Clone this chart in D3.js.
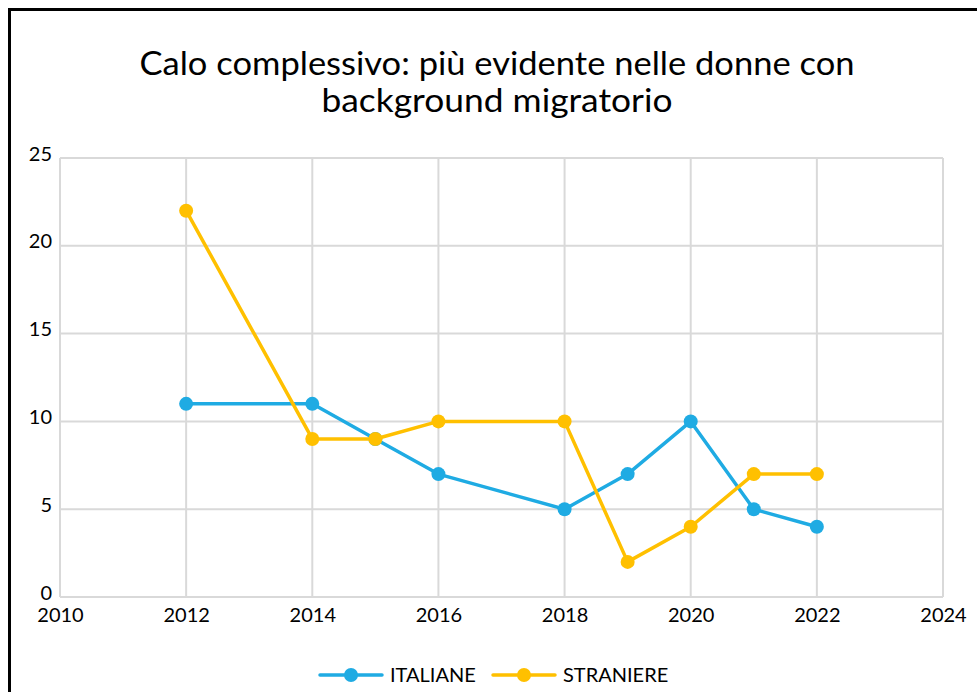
<!DOCTYPE html>
<html>
<head>
<meta charset="utf-8">
<script src="https://cdn.jsdelivr.net/npm/d3@7"></script>
<style>
  body { margin: 0; background: #fff; }
  svg { display: block; font-family: Lato, "Open Sans", sans-serif; }
</style>
</head>
<body>
<svg id="chart"></svg>
<script>
// data
const years = [2012, 2014, 2015, 2016, 2018, 2019, 2020, 2021, 2022]
const italiane = [11, 11, 9, 7, 5, 7, 10, 5, 4]
const straniere = [22, 9, 9, 10, 10, 2, 4, 7, 7]
const xTicks = [2010, 2012, 2014, 2016, 2018, 2020, 2022, 2024]
const yTicks = [0, 5, 10, 15, 20, 25]
const titleLines = ['Calo complessivo: più evidente nelle donne con', 'background migratorio']

const series = [
    {name: 'ITALIANE', color: '#1FABE3', values: italiane},
    {name: 'STRANIERE', color: '#FFC000', values: straniere}
]

const W = 977, H = 692
const svg = d3.select('#chart').attr('width', W).attr('height', H)

// outer frame (runs off the right/bottom)
svg.append('rect')
    .attr('x', 9.5).attr('y', 9.5)
    .attr('width', 1000).attr('height', 1000)
    .attr('fill', 'none').attr('stroke', '#000').attr('stroke-width', 3)

// title
svg.append('g').selectAll('text')
    .data(titleLines)
    .join('text')
    .attr('x', 497)
    .attr('y', (d, i) => 75 + i * 37)
    .attr('text-anchor', 'middle')
    .attr('font-size', 32)
    .attr('fill', '#000')
    .attr('textLength', (d, i) => i == 0 ? 715 : 351)
    .attr('lengthAdjust', 'spacingAndGlyphs')
    .text(d => d)

const xScale = d3.scaleLinear().domain([2010, 2024]).range([60, 943])
const yScale = d3.scaleLinear().domain([0, 25]).range([597, 158])

// grid
svg.append('g').selectAll('line')
    .data(xTicks)
    .join('line')
    .attr('x1', d => xScale(d)).attr('x2', d => xScale(d))
    .attr('y1', yScale(0)).attr('y2', yScale(25))
    .attr('stroke', '#d9d9d9').attr('stroke-width', 2)

svg.append('g').selectAll('line')
    .data(yTicks)
    .join('line')
    .attr('x1', xScale(2010)).attr('x2', xScale(2024))
    .attr('y1', d => yScale(d)).attr('y2', d => yScale(d))
    .attr('stroke', '#d9d9d9').attr('stroke-width', 2)

// axes (labels only)
const xAxis = d3.axisBottom(xScale).tickValues(xTicks).tickFormat(d3.format('d')).tickSize(0).tickPadding(8)
const yAxis = d3.axisLeft(yScale).tickValues(yTicks).tickSize(0).tickPadding(8)

const gx = svg.append('g').attr('transform', `translate(0, ${yScale(0) + 3})`).call(xAxis)
const gy = svg.append('g').attr('transform', `translate(${xScale(2010)}, 0)`).call(yAxis)
;[gx, gy].forEach(g => {
    g.select('.domain').remove()
    g.selectAll('text').attr('font-size', 20).attr('fill', '#000').attr('font-family', 'Lato, sans-serif')
})
gy.selectAll('text').attr('dy', '0.1em')

// lines + markers
const line = d3.line().x(d => xScale(d[0])).y(d => yScale(d[1]))

series.forEach(s => {
    const pts = years.map((y, i) => [y, s.values[i]])
    svg.append('path')
        .datum(pts)
        .attr('d', line)
        .attr('fill', 'none')
        .attr('stroke', s.color)
        .attr('stroke-width', 3.5)
        .attr('stroke-linejoin', 'round')
    svg.append('g').selectAll('circle')
        .data(pts)
        .join('circle')
        .attr('cx', d => xScale(d[0]))
        .attr('cy', d => yScale(d[1]))
        .attr('r', 7)
        .attr('fill', s.color)
})

// legend
const legendX = [320, 493]
const lg = svg.append('g').selectAll('g')
    .data(series)
    .join('g')
    .attr('transform', (d, i) => `translate(${legendX[i]}, 675)`)
lg.append('line')
    .attr('x1', 0).attr('x2', 62).attr('y1', 0).attr('y2', 0)
    .attr('stroke', d => d.color).attr('stroke-width', 3.5).attr('stroke-linecap', 'round')
lg.append('circle').attr('cx', 31).attr('r', 7).attr('fill', d => d.color)
lg.append('text')
    .attr('x', 70).attr('y', 0).attr('dy', '0.35em')
    .attr('font-size', 20).attr('fill', '#000')
    .text(d => d.name)
</script>
</body>
</html>
